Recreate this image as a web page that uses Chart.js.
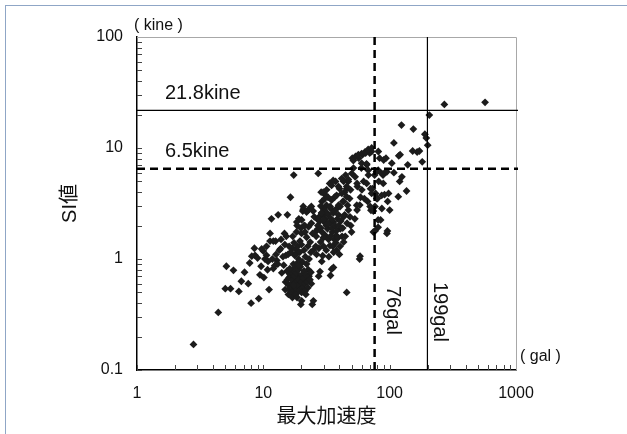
<!DOCTYPE html>
<html>
<head>
<meta charset="utf-8">
<script src="https://cdn.jsdelivr.net/npm/chart.js@4.4.0/dist/chart.umd.min.js"></script>
<style>
  html, body { margin: 0; padding: 0; background: #fff; }
  #wrap { position: relative; width: 627px; height: 434px; overflow: hidden; }
  #frame { position: absolute; left: 5px; top: 5px; width: 700px; height: 500px; border-left: 1px solid #8fa6c6; border-top: 1px solid #8fa6c6; }
  canvas { position: absolute; left: 0; top: 0; }
</style>
</head>
<body>
<div id="wrap">
  <div id="frame"></div>
  <canvas id="chart" width="627" height="434"></canvas>
</div>
<script>
// peak ground acceleration (gal) and SI value (kine) of each record
const pgaGal = [
  2.8, 4.4, 5.1, 5.0, 5.5, 5.8, 6.4, 6.7, 7.1, 7.6,
  7.8, 8.0, 8.1, 8.5, 8.6, 9.0, 9.2, 9.4, 9.6, 9.7,
  10.0, 10.1, 10.3, 10.6, 10.6, 10.9, 11.1, 11.3, 11.3, 11.6,
  12.0, 12.0, 12.3, 12.5, 12.6, 12.8, 13.1, 13.4, 13.7, 14.0,
  14.7, 14.8, 14.9, 15.0, 15.1, 15.2, 15.5, 15.7, 11.8, 13.0,
  14.3, 15.9, 15.8, 16.0, 15.5, 16.0, 13.8, 14.5, 15.4, 10.8,
  16.3, 16.7, 16.9, 17.7, 17.9, 18.6, 19.5, 19.8, 19.9, 20.4,
  21.2, 21.7, 22.4, 22.7, 24.0, 24.4, 16.5, 16.8, 17.0, 17.2,
  17.5, 17.6, 17.8, 18.0, 18.2, 18.3, 18.4, 18.8, 18.9, 19.2,
  19.3, 19.6, 20.0, 20.2, 20.5, 20.8, 21.0, 21.4, 21.8, 22.2,
  22.5, 23.0, 23.4, 16.2, 17.3, 18.6, 20.1, 17.0, 18.0, 21.3,
  20.1, 24.9, 28.1, 19.0, 17.4, 18.5, 22.0, 23.8, 16.4, 16.9,
  17.1, 17.4, 17.7, 18.1, 18.5, 19.0, 19.1, 19.5, 20.1, 20.7,
  21.0, 22.0, 23.2, 23.5, 24.9, 25.3, 16.0, 16.5, 17.5, 18.0,
  18.7, 19.4, 20.0, 21.0, 21.5, 22.5, 23.0, 23.8, 24.5, 18.3,
  19.8, 21.4, 22.8, 24.0, 20.5, 22.0, 24.8, 18.4, 20.7, 22.7,
  24.0, 20.1, 21.3, 25.8, 26.2, 26.4, 26.8, 27.2, 27.4, 27.7,
  28.4, 28.7, 29.1, 29.1, 29.5, 29.9, 30.3, 30.8, 31.0, 31.6,
  32.2, 32.7, 33.5, 33.7, 34.2, 34.7, 35.2, 35.9, 36.6, 37.3,
  37.8, 38.1, 38.6, 39.4, 40.1, 40.7, 41.7, 42.6, 43.2, 43.9,
  44.8, 45.7, 46.4, 47.1, 48.2, 49.2, 49.9, 45.7, 35.9, 34.0,
  27.0, 28.0, 28.5, 29.0, 29.8, 30.2, 31.0, 31.5, 32.0, 32.8,
  33.5, 34.0, 34.5, 35.0, 35.8, 36.5, 37.0, 38.0, 39.0, 39.5,
  40.5, 42.0, 44.0, 30.0, 31.5, 33.0, 35.5, 38.0, 27.5, 29.0,
  26.0, 28.5, 30.7, 32.5, 34.7, 35.7, 34.7, 31.7, 29.8, 38.0,
  41.8, 33.8, 36.8, 39.3, 43.2, 28.9, 27.1, 29.8, 32.5, 39.3,
  43.2, 47.1, 45.7, 49.0, 45.7, 43.2, 40.5, 47.1, 40.0, 44.5,
  41.0, 37.5, 36.0, 42.5, 46.0, 48.5, 50.6, 51.7, 53.7, 54.9,
  55.5, 56.8, 58.8, 59.7, 61.0, 62.2, 64.5, 65.9, 66.9, 67.9,
  69.5, 70.6, 71.1, 71.9, 73.0, 74.3, 74.3, 76.0, 77.4, 78.5,
  80.1, 81.3, 81.9, 83.3, 84.8, 86.7, 88.6, 89.6, 91.1, 93.0,
  95.1, 96.4, 57.8, 51.6, 56.5, 60.0, 63.8, 67.6, 72.0, 60.0,
  65.6, 67.6, 81.2, 93.5, 86.5, 95.1, 65.8, 72.0, 79.0, 86.5,
  98.0, 70.0, 76.5, 58.0, 55.2, 50.1, 53.3, 55.2, 60.2, 81.0,
  81.0, 89.0, 53.0, 63.0, 76.6, 96.0, 58.3, 104, 108, 118,
  120, 117, 136, 139, 154, 165, 152, 172, 181, 190,
  195, 200, 206, 124, 121, 271, 569, 108, 100, 125
];
const siKine = [
  0.17, 0.33, 0.86, 0.54, 0.54, 0.79, 0.51, 0.63, 0.76, 0.6,
  0.92, 0.4, 1.06, 1.25, 1.08, 1.02, 0.44, 0.72, 0.86, 1.23,
  1.18, 0.68, 1.0, 1.08, 1.3, 0.95, 0.53, 1.7, 1.45, 2.3,
  1.45, 0.82, 0.87, 1.45, 1.1, 0.97, 2.5, 1.2, 1.24, 0.75,
  1.7, 1.35, 0.53, 0.62, 1.08, 1.6, 2.5, 1.1, 1.0, 0.9,
  1.05, 0.58, 0.48, 0.53, 0.65, 0.68, 1.5, 0.88, 0.78, 0.8,
  0.72, 0.6, 0.75, 0.47, 0.84, 0.68, 0.7, 0.39, 0.58, 0.94,
  0.63, 0.48, 0.68, 0.8, 0.6, 0.39, 0.55, 0.5, 0.65, 0.8,
  0.52, 0.7, 0.6, 0.55, 0.75, 0.5, 0.63, 0.58, 0.8, 0.65,
  0.52, 0.85, 0.62, 0.72, 0.55, 0.67, 0.78, 0.6, 0.72, 0.62,
  0.55, 0.7, 0.65, 0.82, 0.9, 0.92, 0.5, 0.45, 0.48, 0.51,
  0.42, 0.42, 0.77, 0.88, 0.58, 0.45, 0.9, 0.76, 3.6, 1.25,
  1.6, 5.7, 1.08, 1.22, 2.0, 1.0, 2.3, 1.45, 1.7, 2.8,
  2.0, 1.57, 2.85, 1.42, 1.2, 2.4, 1.3, 1.15, 1.4, 1.1,
  1.3, 1.15, 1.35, 1.2, 1.05, 1.3, 1.0, 1.15, 1.7, 1.75,
  1.9, 1.75, 1.95, 2.1, 2.7, 2.65, 2.7, 2.15, 2.97, 2.76,
  2.97, 2.25, 2.0, 1.75, 1.6, 1.1, 1.85, 5.9, 0.7, 2.4,
  1.42, 4.0, 3.3, 1.75, 1.07, 2.5, 2.15, 3.8, 1.63, 3.05,
  1.87, 2.5, 4.8, 1.32, 2.85, 0.81, 1.75, 2.15, 3.6, 5.0,
  1.63, 2.85, 2.3, 3.05, 4.3, 1.87, 5.3, 3.3, 1.42, 4.0,
  5.7, 4.3, 3.05, 5.0, 3.5, 2.0, 1.75, 0.5, 0.84, 0.71,
  2.0, 2.2, 1.9, 2.6, 1.55, 2.8, 2.3, 2.0, 2.6, 1.5,
  2.1, 1.6, 2.3, 1.9, 2.6, 1.5, 2.0, 1.8, 1.55, 2.0,
  1.3, 1.6, 2.5, 1.3, 1.2, 1.05, 1.3, 1.2, 1.25, 0.95,
  1.3, 3.0, 3.5, 3.6, 3.4, 5.1, 4.6, 4.2, 4.0, 3.75,
  3.9, 2.97, 2.7, 2.5, 2.4, 2.6, 2.25, 2.25, 2.1, 4.5,
  5.0, 5.2, 4.5, 4.2, 3.64, 3.3, 2.97, 2.76, 1.1, 1.6,
  2.2, 1.4, 1.15, 1.9, 2.1, 2.4, 8.1, 6.6, 8.4, 3.05,
  4.5, 8.1, 3.6, 6.6, 8.7, 5.0, 9.0, 7.05, 3.3, 5.7,
  9.0, 4.3, 2.75, 9.3, 4.3, 1.75, 2.7, 5.7, 3.9, 6.1,
  3.5, 9.3, 5.0, 8.1, 2.25, 2.85, 5.7, 7.8, 3.8, 6.1,
  1.7, 3.3, 1.0, 7.7, 8.7, 8.9, 9.2, 9.7, 10.0, 7.3,
  7.2, 6.3, 6.3, 8.1, 5.9, 6.1, 4.8, 3.9, 3.5, 3.75,
  3.9, 2.97, 2.97, 3.06, 2.76, 5.9, 5.5, 4.8, 4.2, 2.25,
  1.93, 4.8, 2.3, 3.5, 1.79, 1.79, 1.06, 7.3, 11.1, 8.5,
  5.0, 3.64, 4.1, 7.05, 14.8, 9.2, 9.4, 9.4, 7.5, 13.3,
  12.3, 10.6, 19.8, 16.1, 8.7, 24.7, 25.8, 6.0, 2.76, 5.5
];

const xTicks = [1, 10, 100, 1000];
const yTicks = [0.1, 1, 10, 100];

// threshold lines
const galLines = [76, 199];
const galLabels = ['76gal', '199gal'];
const galDashed = [true, false];
const kineLines = [21.8, 6.5];
const kineLabels = ['21.8kine', '6.5kine'];
const kineDashed = [false, true];

const FONT = "'Liberation Sans', Arial, 'Noto Sans CJK JP', sans-serif";
Chart.defaults.font.family = FONT;
Chart.defaults.color = '#111';

const overlay = {
  id: 'overlay',
  afterDatasetsDraw(chart) {
    const ctx = chart.ctx;
    const xs = chart.scales.x;
    const ys = chart.scales.y;
    const a = chart.chartArea;
    ctx.save();

    // top / right frame of plot area
    ctx.strokeStyle = '#a8a8a8';
    ctx.lineWidth = 1;
    ctx.beginPath();
    ctx.moveTo(a.left, a.top + 0.5);
    ctx.lineTo(a.right + 0.5, a.top + 0.5);
    ctx.lineTo(a.right + 0.5, a.bottom);
    ctx.stroke();

    // minor ticks pointing inward
    ctx.strokeStyle = '#444';
    ctx.lineWidth = 1;
    ctx.beginPath();
    for (let i = 0; i < yTicks.length - 1; i++) {
      for (let m = 1; m <= 9; m++) {
        const py = Math.round(ys.getPixelForValue(yTicks[i] * m)) + 0.5;
        ctx.moveTo(a.left, py);
        ctx.lineTo(a.left + 5, py);
      }
    }
    for (let i = 0; i < xTicks.length - 1; i++) {
      for (let m = 1; m <= 9; m++) {
        const px = Math.round(xs.getPixelForValue(xTicks[i] * m)) + 0.5;
        ctx.moveTo(px, a.bottom);
        ctx.lineTo(px, a.bottom - 5);
      }
    }
    ctx.stroke();

    // threshold lines
    ctx.strokeStyle = '#000';
    galLines.forEach((v, i) => {
      const px = xs.getPixelForValue(v);
      ctx.lineWidth = galDashed[i] ? 2.5 : 1.2;
      ctx.setLineDash(galDashed[i] ? [8, 5] : []);
      ctx.beginPath();
      ctx.moveTo(px, a.bottom);
      ctx.lineTo(px, a.top);
      ctx.stroke();
    });
    kineLines.forEach((v, i) => {
      const py = ys.getPixelForValue(v);
      ctx.lineWidth = kineDashed[i] ? 2.5 : 1.2;
      ctx.setLineDash(kineDashed[i] ? [8, 5] : []);
      ctx.beginPath();
      ctx.moveTo(a.left, py);
      ctx.lineTo(a.right + 2, py);
      ctx.stroke();
    });
    ctx.setLineDash([]);

    // labels
    ctx.fillStyle = '#111';
    ctx.font = '20px ' + FONT;
    ctx.textAlign = 'left';
    ctx.textBaseline = 'middle';
    kineLines.forEach((v, i) => {
      const py = ys.getPixelForValue(v);
      ctx.fillText(kineLabels[i], a.left + 28, py - 17);
    });
    const galOffset = [18, 12];
    const galTop = [286, 282];
    galLines.forEach((v, i) => {
      const px = xs.getPixelForValue(v);
      ctx.save();
      ctx.translate(px + galOffset[i], galTop[i]);
      ctx.rotate(Math.PI / 2);
      ctx.fillText(galLabels[i], 0, 0);
      ctx.restore();
    });

    // unit labels
    ctx.font = '16px ' + FONT;
    ctx.fillText('( kine )', a.left - 3, a.top - 11);
    ctx.fillText('( gal )', a.right + 4, a.bottom - 13);
    ctx.restore();
  }
};

new Chart(document.getElementById('chart'), {
  type: 'scatter',
  data: {
    datasets: [{
      data: pgaGal.map((g, i) => ({ x: g, y: siKine[i] })),
      pointStyle: 'rectRot',
      pointRadius: 3.9,
      pointHoverRadius: 3.9,
      borderWidth: 0,
      backgroundColor: '#1c1c1c',
      borderColor: '#1c1c1c'
    }]
  },
  options: {
    responsive: false,
    animation: false,
    events: [],
    layout: { padding: { left: 54, top: 37, right: 111, bottom: 1 } },
    plugins: { legend: { display: false }, tooltip: { enabled: false } },
    scales: {
      x: {
        type: 'logarithmic',
        min: 1,
        max: 1000,
        afterBuildTicks: s => { s.ticks = xTicks.map(v => ({ value: v })); },
        afterFit: s => { s.height = 63; },
        grid: { display: false, drawTicks: false },
        border: { display: true, color: '#000', width: 1.5 },
        ticks: { font: { size: 16 }, color: '#111', padding: 14, maxRotation: 0, autoSkip: false, callback: v => String(v) },
        title: { display: true, text: '最大加速度', font: { size: 20 }, color: '#111' }
      },
      y: {
        type: 'logarithmic',
        min: 0.1,
        max: 100,
        afterBuildTicks: s => { s.ticks = yTicks.map(v => ({ value: v })); },
        afterFit: s => { s.width = 83; },
        grid: { display: false, drawTicks: false },
        border: { display: true, color: '#000', width: 1.5 },
        ticks: { font: { size: 16 }, color: '#111', padding: 14, autoSkip: false, callback: v => String(v) },
        title: { display: true, text: 'SI値', font: { size: 20 }, color: '#111' }
      }
    }
  },
  plugins: [overlay]
});
</script>
</body>
</html>
